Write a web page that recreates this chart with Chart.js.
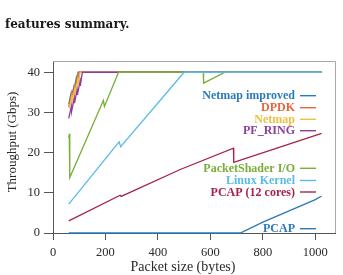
<!DOCTYPE html>
<html>
<head>
<meta charset="utf-8">
<script src="https://cdn.jsdelivr.net/npm/chart.js@4.4.1/dist/chart.umd.min.js"></script>
<style>
  html, body { margin: 0; padding: 0; background: #fff; }
  #wrap { position: relative; width: 343px; height: 275px; }
</style>
</head>
<body>
<div id="wrap"><canvas id="tputChart" width="343" height="275"></canvas></div>
<script>
// series, in legend order (later ones are drawn on top)
const seriesNames = ['Netmap improved', 'DPDK', 'Netmap', 'PF_RING',
    'PacketShader I/O', 'Linux Kernel', 'PCAP (12 cores)', 'PCAP'];
const seriesColors = ['#2b7bba', '#e5663c', '#f0c044', '#8b3d9e',
    '#7aad3a', '#5bbbe8', '#a8214c', '#2a79b8'];

// [packet size (bytes), throughput (Gbps)]
const netmapImproved = [[60, 32], [68, 34.5], [69, 33.3], [78, 36], [79, 35], [88, 38.3], [89, 37.5], [96, 40], [1024, 40]];
const dpdk = [[60, 31.3], [70, 34.5], [71, 33], [81, 36.3], [82, 35], [92, 38.7], [93, 37.5], [100, 40], [1024, 40]];
const netmap = [[62, 31], [72, 34], [73, 32.6], [83, 35.8], [84, 34.5], [94, 38], [95, 36.8], [104, 40], [1024, 40]];
const pfRing = [[60, 28.5], [70, 31.5], [71, 30.3], [81, 33.5], [82, 32.3], [92, 35.6], [93, 34.4], [103, 37.7], [104, 36.6], [112, 40], [1024, 40]];
const packetShader = [[60, 23.6], [62, 24.7], [64, 13.8], [192, 33], [196, 31.5], [250, 40], [573, 40], [574, 37.3], [656, 40], [1024, 40]];
const linuxKernel = [[60, 7.2], [252, 22.7], [258, 21.5], [500, 40], [1024, 40]];
const pcap12 = [[60, 3], [256, 9.4], [260, 9.1], [485, 15.8], [688, 21.1], [689, 17.6], [1024, 24.8]];
const pcap = [[60, 0], [714, 0], [800, 2.7], [1000, 8.3], [1024, 9.2]];

const allSeries = [netmapImproved, dpdk, netmap, pfRing, packetShader, linuxKernel, pcap12, pcap];

const xTicks = [0, 200, 400, 600, 800, 1000];
const yTicks = [0, 10, 20, 30, 40];

const axisColor = '#555';
const textColor = '#2a2a2a';

Chart.defaults.font.family = "'Liberation Serif', serif";
Chart.defaults.color = textColor;

// legend labels sit at the right of the plot, two groups
const legendRows = [95.7, 107.7, 119.3, 130.7, 168.3, 180.5, 192, 228.7];

const decorPlugin = {
    id: 'decor',
    afterDraw(chart) {
        const ctx = chart.ctx;
        const a = chart.chartArea;
        ctx.save();

        // light frame on top and right
        ctx.strokeStyle = '#a8a8a8';
        ctx.lineWidth = 1;
        ctx.beginPath();
        ctx.moveTo(a.left, a.top + 0.5);
        ctx.lineTo(a.right + 0.5, a.top + 0.5);
        ctx.lineTo(a.right + 0.5, a.bottom);
        ctx.stroke();

        // caption fragment above the plot
        ctx.fillStyle = '#1a1a1a';
        ctx.font = "bold 12px 'DejaVu Serif', serif";
        ctx.textAlign = 'left';
        ctx.textBaseline = 'alphabetic';
        ctx.fillText('features summary.', 5, 28);

        // axis titles
        ctx.fillStyle = textColor;
        ctx.font = "14px 'Liberation Serif', serif";
        ctx.textAlign = 'center';
        ctx.textBaseline = 'middle';
        ctx.fillText('Packet size (bytes)', 183, 267);
        ctx.save();
        ctx.translate(13, 142);
        ctx.rotate(-Math.PI / 2);
        ctx.font = "13px 'Liberation Serif', serif";
        ctx.fillText('Throughput (Gbps)', 0, 0);
        ctx.restore();

        // legend entries
        ctx.font = "bold 12px 'Liberation Serif', serif";
        ctx.textAlign = 'right';
        ctx.lineWidth = 1.4;
        seriesNames.forEach(function (name, i) {
            const y = legendRows[i];
            ctx.fillStyle = seriesColors[i];
            ctx.fillText(name, 295, y + 0.5);
            ctx.strokeStyle = seriesColors[i];
            ctx.beginPath();
            ctx.moveTo(300, y);
            ctx.lineTo(316, y);
            ctx.stroke();
        });
        ctx.restore();
    }
};

const ctx = document.getElementById('tputChart').getContext('2d');

new Chart(ctx, {
    type: 'line',
    data: {
        datasets: allSeries.map(function (pts, i) {
            return {
                label: seriesNames[i],
                data: pts.map(p => ({ x: p[0], y: p[1] })),
                borderColor: seriesColors[i],
                borderWidth: 1.3,
                pointRadius: 0,
                tension: 0,
                fill: false,
                clip: 3,
                order: allSeries.length - i
            };
        })
    },
    options: {
        responsive: false,
        devicePixelRatio: 1,
        animation: false,
        layout: { padding: { top: 61, right: 8, left: 0, bottom: 0 } },
        plugins: {
            legend: { display: false },
            tooltip: { enabled: false }
        },
        scales: {
            x: {
                type: 'linear',
                min: 0,
                max: 1075,
                afterBuildTicks: s => { s.ticks = xTicks.map(v => ({ value: v })); },
                afterFit: s => { s.height = 42; },
                ticks: { padding: 5, font: { size: 12.5 }, color: textColor, callback: v => String(v) },
                grid: { drawOnChartArea: false, drawTicks: true, tickLength: 7, tickColor: axisColor },
                border: { display: true, color: axisColor, width: 1 }
            },
            y: {
                type: 'linear',
                min: 0,
                max: 42.8,
                afterBuildTicks: s => { s.ticks = yTicks.map(v => ({ value: v })); },
                afterFit: s => { s.width = 53; },
                ticks: { padding: 4, font: { size: 12.5 }, color: textColor, callback: v => String(v) },
                grid: { drawOnChartArea: false, drawTicks: true, tickLength: 9, tickColor: axisColor },
                border: { display: true, color: axisColor, width: 1 }
            }
        }
    },
    plugins: [decorPlugin]
});
</script>
</body>
</html>
